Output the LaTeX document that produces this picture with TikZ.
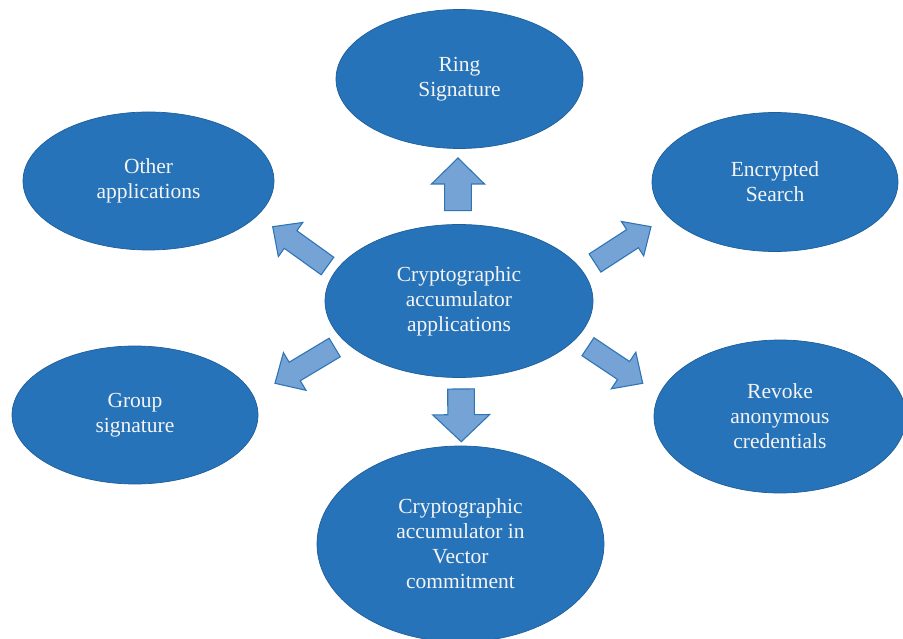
\documentclass[tikz,border=0pt]{standalone}
\usepackage{fontspec}
\setmainfont{Liberation Serif}
\usetikzlibrary{shapes.geometric,calc}
\definecolor{ellfill}{RGB}{38,115,185}
\definecolor{ellline}{RGB}{30,95,155}
\definecolor{arrfill}{RGB}{118,163,214}
\definecolor{arrline}{RGB}{46,117,182}
\definecolor{txt}{RGB}{244,244,244}
\tikzset{
  bubble/.style={ellipse, fill=ellfill, draw=ellline, line width=0.7pt, inner sep=0pt,
    text=txt, align=center, font=\fontsize{21.5}{25}\selectfont},
  blockarr/.style={fill=arrfill, draw=arrline, line width=1.1pt, line join=miter},
}
% #1 tail, #2 tip, #3 shaft half width, #4 head half width, #5 head length
\newcommand\blockarrow[5]{%
  \draw[blockarr] ($(#1)!#3!90:(#2)$) --
    ($($(#2)!#5!(#1)$)!#3!90:(#2)$) --
    ($($(#2)!#5!(#1)$)!#4!90:(#2)$) --
    (#2) --
    ($($(#2)!#5!(#1)$)!#4!-90:(#2)$) --
    ($($(#2)!#5!(#1)$)!#3!-90:(#2)$) --
    ($(#1)!#3!-90:(#2)$) -- cycle;}
\begin{document}
\begin{tikzpicture}[x=1pt,y=-1pt]
\useasboundingbox (0,0) rectangle (903,639);
\fill[white] (0,0) rectangle (903,639);
\begin{scope}
\clip (0,0) rectangle (903,639);
\node[bubble, minimum width=268pt, minimum height=153pt] (c) at (459,301) {Cryptographic\\accumulator\\applications};
\node[bubble, minimum width=247pt, minimum height=139pt] (ring) at (459.5,79) {Ring\\Signature};
\node[bubble, minimum width=251pt, minimum height=138pt] (other) at (148.5,181) {Other\\applications};
\node[bubble, minimum width=246pt, minimum height=139pt] (enc) at (775,182) {Encrypted\\Search};
\node[bubble, minimum width=246pt, minimum height=138pt] (group) at (135,415) {Group\\signature};
\node[bubble, minimum width=252pt, minimum height=153pt] (rev) at (780,416.5) {Revoke\\anonymous\\credentials};
\node[bubble, minimum width=287pt, minimum height=196pt] (vec) at (460.5,544) {Cryptographic\\accumulator in\\Vector\\commitment};
\end{scope}
% arrow anchor points
\coordinate (uT) at (458,210.7);   \coordinate (uH) at (458,158);
\coordinate (dT) at (461,389);     \coordinate (dH) at (461.3,441.7);
\coordinate (neT) at (595,263);    \coordinate (neH) at (651,226.7);
\coordinate (nwT) at (327.5,266);  \coordinate (nwH) at (272.7,226.7);
\coordinate (swT) at (334.7,347.5);\coordinate (swH) at (275,383.3);
\coordinate (seT) at (588,346.7);  \coordinate (seH) at (642.7,383.3);
\blockarrow{uT}{uH}{13.4pt}{26.5pt}{26pt}
\blockarrow{dT}{dH}{13.3pt}{28.5pt}{27pt}
\blockarrow{neT}{neH}{10.8pt}{20.5pt}{22pt}
\blockarrow{nwT}{nwH}{10.8pt}{21pt}{22pt}
\blockarrow{swT}{swH}{10.8pt}{22pt}{23pt}
\blockarrow{seT}{seH}{10.8pt}{22pt}{23pt}
\end{tikzpicture}
\end{document}
